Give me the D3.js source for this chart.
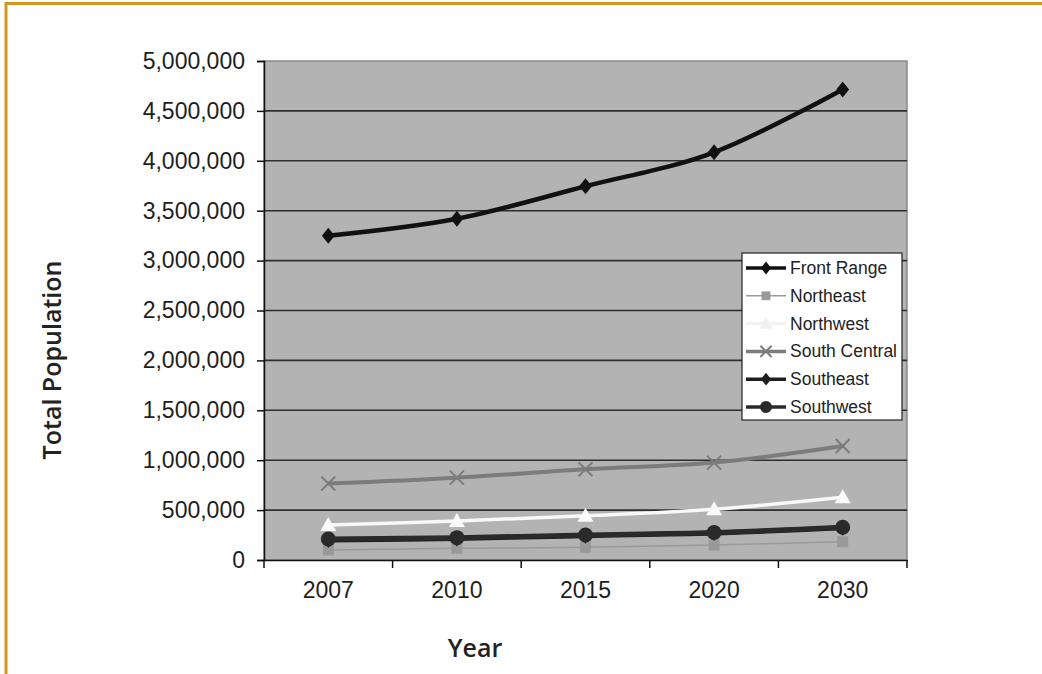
<!DOCTYPE html>
<html>
<head>
<meta charset="utf-8">
<script src="https://cdn.jsdelivr.net/npm/d3@7"></script>
<style>
  html, body { margin: 0; padding: 0; background: #fff; }
  svg { display: block; }
</style>
</head>
<body>
<svg id="chart" width="1042" height="674"></svg>
<script>
const years = ["2007", "2010", "2015", "2020", "2030"];
const yTicks = [0, 500000, 1000000, 1500000, 2000000, 2500000, 3000000, 3500000, 4000000, 4500000, 5000000];

const frontRange   = [3250000, 3420000, 3745000, 4085000, 4715000];
const northeast    = [100000, 117000, 127000, 150000, 183000];
const northwest    = [351000, 391000, 443000, 508000, 628000];
const southCentral = [767000, 825000, 909000, 976000, 1142000];
const southeast    = [200000, 216000, 244000, 270000, 322000];
const southwest    = [210000, 224000, 250000, 275000, 328000];

const seriesNames = ["Front Range", "Northeast", "Northwest", "South Central", "Southeast", "Southwest"];
const seriesValues = [frontRange, northeast, northwest, southCentral, southeast, southwest];

const styles = {
  "Front Range":   { stroke: "#111", width: 4.5, marker: "diamond", fill: "#111", size: 16 },
  "Northeast":     { stroke: "#9a9a9a", width: 1.5, marker: "square", fill: "#999", size: 11 },
  "Northwest":     { stroke: "#f8f8f8", width: 3.5, marker: "triangle", fill: "#fafafa", size: 16 },
  "South Central": { stroke: "#7c7c7c", width: 4, marker: "cross", fill: "#7c7c7c", size: 14 },
  "Southeast":     { stroke: "#1e1e1e", width: 5, marker: "diamond", fill: "#1e1e1e", size: 16 },
  "Southwest":     { stroke: "#2a2a2a", width: 5, marker: "circle", fill: "#2a2a2a", size: 15 }
};

const svg = d3.select("#chart");

// orange frame
svg.append("line").attr("x1", 6).attr("x2", 1042).attr("y1", 3.5).attr("y2", 3.5)
  .attr("stroke", "#d4961c").attr("stroke-width", 3);
svg.append("line").attr("x1", 6).attr("x2", 6).attr("y1", 2).attr("y2", 674)
  .attr("stroke", "#d4961c").attr("stroke-width", 3);

const plot = { left: 264, right: 907, top: 61, bottom: 560 };

const x = d3.scaleBand().domain(years).range([plot.left, plot.right]).padding(0);
const y = d3.scaleLinear().domain([0, 5000000]).range([plot.bottom, plot.top]);

// plot background
svg.append("rect")
  .attr("x", plot.left).attr("y", plot.top)
  .attr("width", plot.right - plot.left).attr("height", plot.bottom - plot.top)
  .attr("fill", "#b3b3b3").attr("stroke", "#8a8a8a").attr("stroke-width", 1.5);

// gridlines
svg.append("g").selectAll("line")
  .data(yTicks.filter(d => d > 0 && d < 5000000))
  .join("line")
  .attr("x1", plot.left).attr("x2", plot.right)
  .attr("y1", d => y(d)).attr("y2", d => y(d))
  .attr("stroke", "#2e2e2e").attr("stroke-width", 1.6);

// y axis
const yAxis = svg.append("g")
  .attr("transform", `translate(${plot.left},0)`)
  .call(d3.axisLeft(y).tickValues(yTicks).tickFormat(d3.format(",")).tickSize(7).tickPadding(12));
yAxis.select(".domain").attr("stroke", "#111").attr("stroke-width", 1.5);
yAxis.selectAll(".tick line").attr("stroke", "#111").attr("stroke-width", 1.5);
yAxis.selectAll("text")
  .attr("font-family", "Liberation Sans, Arial, sans-serif")
  .attr("font-size", 23).attr("fill", "#1e1e1e");

// x axis with ticks at category boundaries
const xAxis = svg.append("g")
  .attr("transform", `translate(0,${plot.bottom})`)
  .call(d3.axisBottom(x).tickSize(0).tickPadding(22));
xAxis.select(".domain").attr("stroke", "#111").attr("stroke-width", 1.5);
xAxis.selectAll("text")
  .attr("font-family", "Liberation Sans, Arial, sans-serif")
  .attr("font-size", 23).attr("fill", "#1e1e1e");
const boundaries = years.map(d => x(d)).concat([x(years[years.length - 1]) + x.bandwidth()]);
svg.append("g").selectAll("line")
  .data(boundaries)
  .join("line")
  .attr("x1", d => d).attr("x2", d => d)
  .attr("y1", plot.bottom).attr("y2", plot.bottom + 8)
  .attr("stroke", "#111").attr("stroke-width", 1.5);

// axis titles
svg.append("text")
  .attr("transform", `translate(61,360) rotate(-90)`)
  .attr("text-anchor", "middle")
  .attr("font-family", "Open Sans, sans-serif").attr("font-weight", 600)
  .attr("font-size", 25).attr("fill", "#222")
  .text("Total Population");
svg.append("text")
  .attr("x", 475).attr("y", 657)
  .attr("text-anchor", "middle")
  .attr("font-family", "Open Sans, sans-serif").attr("font-weight", 600)
  .attr("font-size", 25).attr("fill", "#222")
  .text("Year");

function drawMarker(g, type, size, fill, stroke) {
  const s = size / 2;
  if (type === "diamond") {
    g.append("path").attr("d", `M0,${-s}L${s * 0.8},0L0,${s}L${-s * 0.8},0Z`).attr("fill", fill);
  } else if (type === "square") {
    g.append("rect").attr("x", -s).attr("y", -s).attr("width", size).attr("height", size).attr("fill", fill);
  } else if (type === "triangle") {
    g.append("path").attr("d", `M0,${-s}L${s},${s * 0.75}L${-s},${s * 0.75}Z`).attr("fill", fill);
  } else if (type === "cross") {
    g.append("path").attr("d", `M${-s},${-s}L${s},${s}M${-s},${s}L${s},${-s}`)
      .attr("stroke", stroke).attr("stroke-width", 2).attr("fill", "none");
  } else if (type === "circle") {
    g.append("circle").attr("r", s).attr("fill", fill);
  }
}

const line = d3.line()
  .x((d, i) => x(years[i]) + x.bandwidth() / 2)
  .y(d => y(d))
  .curve(d3.curveCatmullRom.alpha(0));

// draw order: lighter ones under darker ones
const drawOrder = ["Northeast", "South Central", "Northwest", "Southeast", "Southwest", "Front Range"];
drawOrder.forEach(name => {
  const vals = seriesValues[seriesNames.indexOf(name)];
  const st = styles[name];
  svg.append("path")
    .datum(vals)
    .attr("d", line)
    .attr("fill", "none")
    .attr("stroke", st.stroke)
    .attr("stroke-width", st.width)
    .attr("stroke-linejoin", "round");
  vals.forEach((v, i) => {
    const g = svg.append("g")
      .attr("transform", `translate(${x(years[i]) + x.bandwidth() / 2},${y(v)})`);
    drawMarker(g, st.marker, st.size, st.fill, st.stroke);
  });
});

// legend
const legend = { x: 742, y: 253, w: 160, h: 167 };
svg.append("rect")
  .attr("x", legend.x).attr("y", legend.y).attr("width", legend.w).attr("height", legend.h)
  .attr("fill", "#fff").attr("stroke", "#222").attr("stroke-width", 1.2);
seriesNames.forEach((name, i) => {
  const st = styles[name];
  const cy = 268 + i * 27.8;
  const g = svg.append("g");
  g.append("line").attr("x1", 746).attr("x2", 786).attr("y1", cy).attr("y2", cy)
    .attr("stroke", name === "Northwest" ? "#f2f2f2" : st.stroke)
    .attr("stroke-width", Math.min(st.width, 3.5));
  const mg = g.append("g").attr("transform", `translate(766,${cy})`);
  drawMarker(mg, st.marker, st.size * 0.8, name === "Northwest" ? "#f0f0f0" : st.fill, st.stroke);
  g.append("text")
    .attr("x", 790).attr("y", cy + 6)
    .attr("font-family", "Liberation Sans, Arial, sans-serif")
    .attr("font-size", 17.5).attr("fill", "#222")
    .text(name);
});
</script>
</body>
</html>
